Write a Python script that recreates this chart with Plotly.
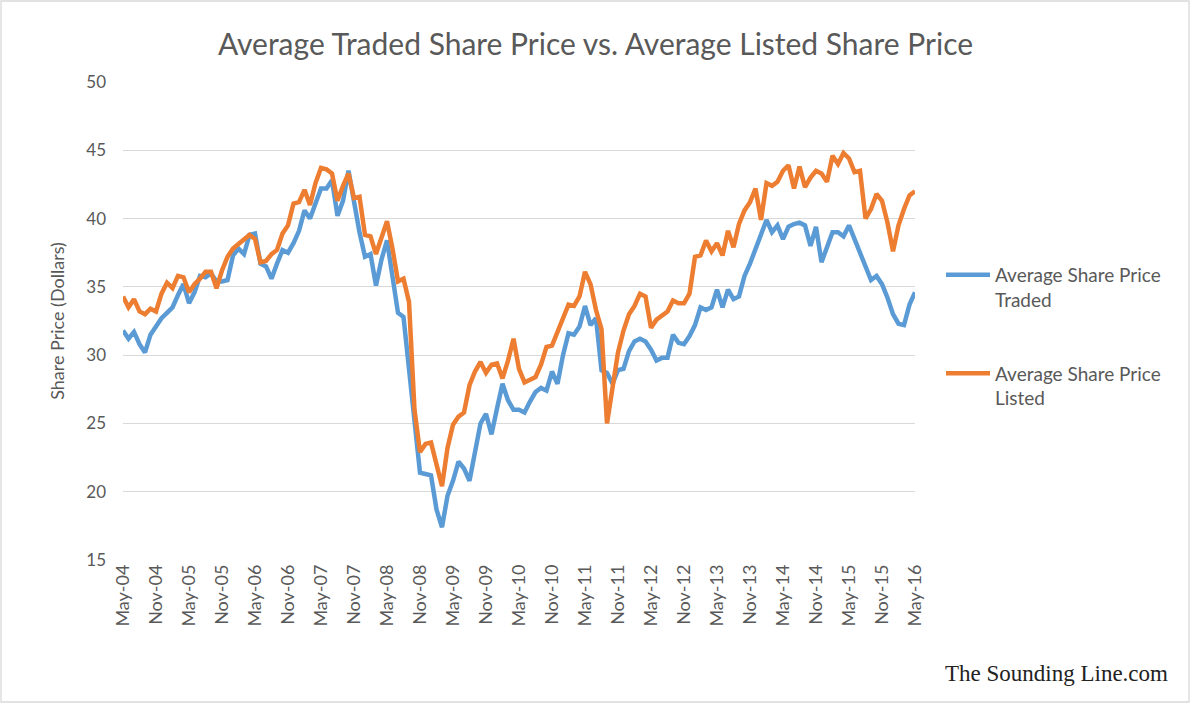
import plotly.graph_objects as go
import pandas as pd

# Monthly categories May-04 .. May-16
months = pd.date_range("2004-05-01", periods=145, freq="MS")
categories = [d.strftime("%b-%y") for d in months]
tick_labels = categories[::6]

traded = [
    31.8, 31.2, 31.7, 30.8, 30.2, 31.5, 32.1, 32.7, 33.1, 33.5, 34.4, 35.2,
    33.8, 34.6, 35.8, 35.7, 36.0, 35.4, 35.4, 35.5, 37.3, 37.8, 37.4, 38.8,
    38.9, 36.7, 36.5, 35.6, 36.7, 37.7, 37.5, 38.2, 39.1, 40.6, 40.0, 41.0,
    42.2, 42.2, 42.8, 40.2, 41.3, 43.5, 41.0, 39.0, 37.2, 37.4, 35.1, 37.0,
    38.4, 35.9, 33.1, 32.8, 29.1, 25.2, 21.4, 21.3, 21.2, 18.7, 17.4, 19.7,
    20.8, 22.2, 21.7, 20.8, 22.8, 25.0, 25.7, 24.2, 26.1, 27.9, 26.7, 26.0,
    26.0, 25.8, 26.6, 27.3, 27.6, 27.4, 28.8, 27.9, 30.0, 31.6, 31.5, 32.1,
    33.6, 32.2, 32.7, 28.9, 28.7, 27.9, 28.9, 29.0, 30.3, 31.0, 31.2, 31.0,
    30.4, 29.6, 29.8, 29.8, 31.5, 30.9, 30.8, 31.4, 32.2, 33.5, 33.3, 33.5,
    34.8, 33.5, 34.8, 34.1, 34.3, 35.8, 36.7, 37.8, 38.9, 39.9, 39.0, 39.5,
    38.5, 39.4, 39.6, 39.7, 39.5, 38.0, 39.4, 36.8, 37.9, 39.0, 39.0, 38.7,
    39.5, 38.5, 37.6, 36.5, 35.5, 35.8, 35.2, 34.2, 33.0, 32.3, 32.2, 33.7,
    34.6,
]

listed = [
    34.3, 33.5, 34.1, 33.2, 33.0, 33.4, 33.2, 34.5, 35.3, 34.9, 35.8, 35.7,
    34.6, 35.2, 35.6, 36.1, 36.1, 34.9, 36.2, 37.2, 37.8, 38.1, 38.5, 38.8,
    38.5, 36.8, 36.9, 37.4, 37.7, 38.9, 39.5, 41.1, 41.2, 42.1, 41.0, 42.6,
    43.7, 43.6, 43.3, 41.3, 42.4, 43.3, 41.5, 41.6, 38.8, 38.7, 37.4, 38.7,
    39.8, 37.8, 35.4, 35.6, 33.9, 26.0, 22.9, 23.5, 23.6, 22.0, 20.4, 23.2,
    24.9, 25.5, 25.8, 27.8, 28.8, 29.5, 28.7, 29.3, 29.4, 28.3, 29.6, 31.2,
    29.0, 28.0, 28.2, 28.4, 29.3, 30.6, 30.7, 31.7, 32.9, 33.7, 33.6, 34.3,
    36.1, 35.2, 33.3, 31.9, 25.0, 27.6, 30.2, 31.8, 33.0, 33.6, 34.5, 34.3,
    32.0, 32.6, 32.9, 33.2, 34.0, 33.8, 33.8, 34.5, 37.2, 37.3, 38.4, 37.6,
    38.2, 37.3, 39.1, 37.9, 39.6, 40.6, 41.2, 42.2, 39.9, 42.6, 42.4, 42.7,
    43.5, 43.9, 42.2, 43.8, 42.3, 43.0, 43.5, 43.3, 42.7, 44.6, 44.0, 44.8,
    44.4, 43.4, 43.5, 40.0, 40.7, 41.8, 41.3, 39.7, 37.6, 39.5, 40.7, 41.7,
    42.0,
]

n = min(len(categories), len(traded), len(listed))
categories = categories[:n]
traded = traded[:n]
listed = listed[:n]

TEXT = "#595959"
GRID = "#D9D9D9"
FONT = "Lato"

fig = go.Figure()
fig.add_trace(go.Scatter(
    x=categories, y=traded, mode="lines",
    name="Average Share Price<br>Traded",
    line=dict(color="#5B9BD5", width=4.5),
    legendgroup="a",
))
fig.add_trace(go.Scatter(
    x=categories, y=listed, mode="lines",
    name="Average Share Price<br>Listed",
    line=dict(color="#ED7D31", width=4.5),
    legendgroup="b",
))

L, R, T, B = 123, 276, 82, 145
W, H = 1191, 705
pw, ph = W - L - R, H - T - B

def px(x):
    return (x - L) / pw

def py(y):
    return (H - B - y) / ph

fig.update_layout(
    width=W, height=H,
    margin=dict(l=L, r=R, t=T, b=B),
    paper_bgcolor="white", plot_bgcolor="white",
    font=dict(family=FONT, color=TEXT),
    title=dict(
        text="Average Traded Share Price vs. Average Listed Share Price",
        x=0.5, xref="container", xanchor="center",
        y=1 - 44 / H, yanchor="middle", yref="container",
        font=dict(size=30, color=TEXT, family=FONT),
    ),
    xaxis=dict(
        type="category",
        range=[0, n - 1],
        tickmode="array", tickvals=tick_labels, ticktext=tick_labels,
        tickangle=-90,
        tickfont=dict(size=18, color=TEXT),
        showgrid=False, showline=False, zeroline=False,
        ticks="",
    ),
    yaxis=dict(
        range=[15, 50], dtick=5, tick0=15,
        showgrid=True, gridcolor=GRID, gridwidth=1.3,
        zeroline=False, showline=False,
        tickfont=dict(size=17, color=TEXT),
        ticks="", ticklabelstandoff=16,
        title=dict(text="Share Price (Dollars)", font=dict(size=18, color=TEXT), standoff=16),
    ),
    legend=dict(
        x=px(941), y=py(256), xanchor="left", yanchor="top",
        font=dict(size=19, color=TEXT),
        valign="top", tracegroupgap=46,
        bgcolor="rgba(0,0,0,0)",
        itemwidth=44,
    ),
    showlegend=True,
    shapes=[
        dict(type="rect", xref="paper", yref="paper",
             x0=px(1), x1=px(1189), y0=py(702), y1=py(1),
             line=dict(color="#D9D9D9", width=1.3), fillcolor="rgba(0,0,0,0)",
             layer="below"),
    ],
    annotations=[
        dict(text="The Sounding Line.com", xref="paper", yref="paper",
             x=px(1170), y=py(673), xanchor="right", yanchor="middle",
             showarrow=False,
             font=dict(size=23, color="#222222", family="Liberation Serif")),
    ],
)

fig.write_html("out.html")
